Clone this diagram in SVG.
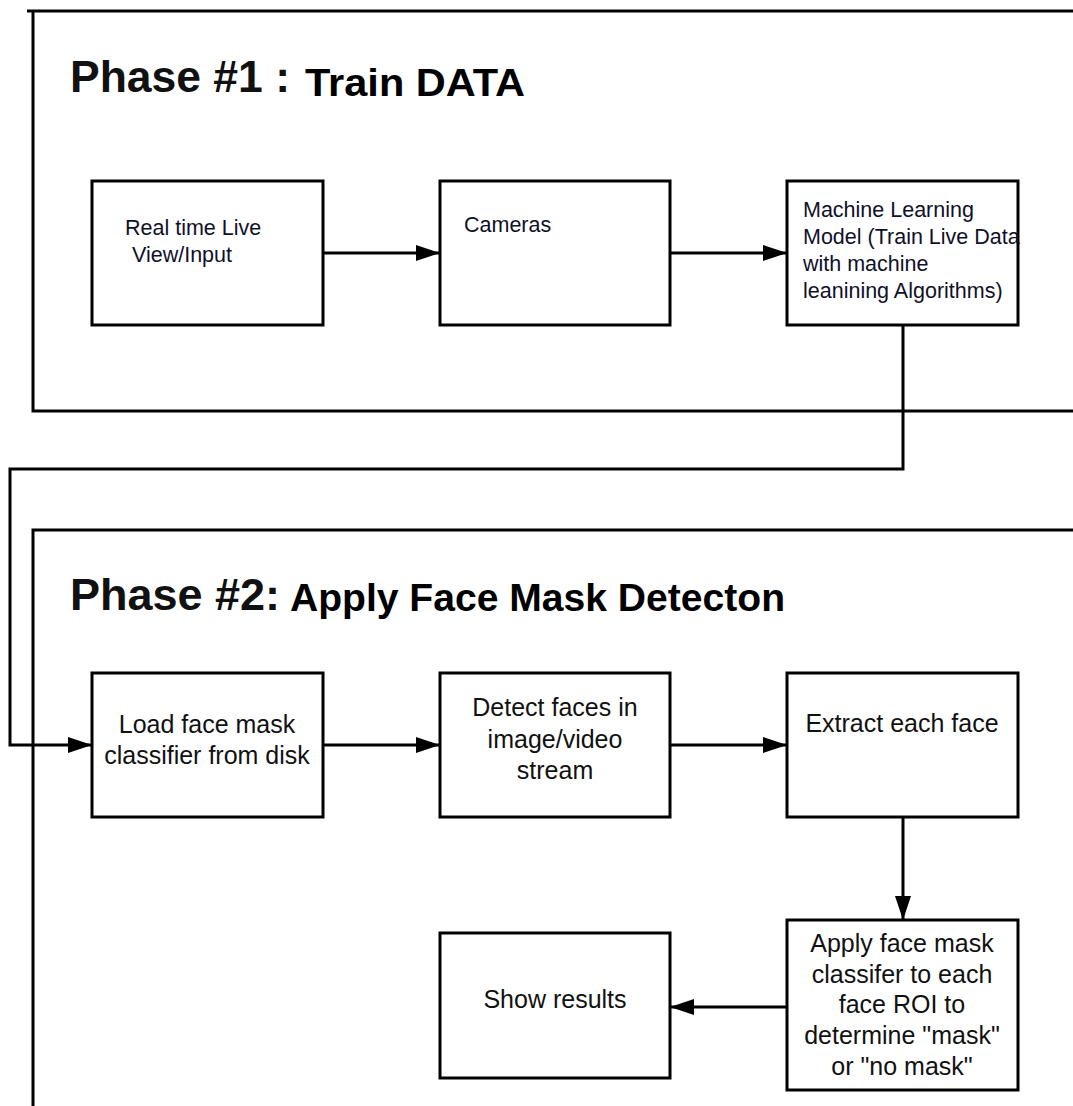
<svg xmlns="http://www.w3.org/2000/svg" width="1073" height="1106" viewBox="0 0 1073 1106">
<defs>
<marker id="arr" markerWidth="24" markerHeight="16" refX="24" refY="8" orient="auto" markerUnits="userSpaceOnUse">
<path d="M0,0 L24,8 L0,16 Z" fill="#000"/>
</marker>
<style>
.box{fill:#fff;stroke:#000;stroke-width:3}
.frame{fill:none;stroke:#000;stroke-width:3}
.conn{fill:none;stroke:#000;stroke-width:3}
.t1{font-family:"Liberation Sans",Arial,sans-serif;font-size:21.5px;fill:#10102a}
.t2{font-family:"Liberation Sans",Arial,sans-serif;font-size:25px;fill:#111;text-anchor:middle}
.h1{font-family:"Liberation Sans",Arial,sans-serif;font-size:44px;font-weight:bold;fill:#111}
.h2{font-family:"Liberation Sans",Arial,sans-serif;font-size:38px;font-weight:bold;fill:#000}
</style>
</defs>
<rect width="1073" height="1106" fill="#fff"/>
<g id="phase1-frame">
<path class="frame" d="M1073,11 L27,11 M33,11 L33,411 L1073,411"/>
<text class="h1" x="70" y="92" textLength="220" lengthAdjust="spacingAndGlyphs">Phase #1 :</text>
<text class="h2" x="305" y="96" textLength="220" lengthAdjust="spacingAndGlyphs">Train DATA</text>
</g>
<g id="phase2-frame">
<path class="frame" d="M1073,530 L33,530 L33,1106"/>
<text class="h1" x="70" y="610" textLength="210" lengthAdjust="spacingAndGlyphs">Phase #2:</text>
<text class="h2" x="290" y="611" textLength="495" lengthAdjust="spacingAndGlyphs">Apply Face Mask Detecton</text>
</g>
<g id="connectors">
<line class="conn" x1="323" y1="253" x2="440" y2="253" marker-end="url(#arr)"/>
<line class="conn" x1="670" y1="253" x2="787" y2="253" marker-end="url(#arr)"/>
<path class="conn" d="M903,325 L903,469 L10,469 L10,745 L92,745" marker-end="url(#arr)"/>
<line class="conn" x1="323" y1="745" x2="440" y2="745" marker-end="url(#arr)"/>
<line class="conn" x1="670" y1="745" x2="787" y2="745" marker-end="url(#arr)"/>
<line class="conn" x1="903" y1="817" x2="903" y2="920" marker-end="url(#arr)"/>
<line class="conn" x1="787" y1="1007" x2="670" y2="1007" marker-end="url(#arr)"/>
</g>
<g id="realtime">
<rect class="box" x="92" y="181" width="231" height="144"/>
<text class="t1" x="125" y="235">Real time Live</text>
<text class="t1" x="132" y="262">View/Input</text>
</g>
<g id="cameras">
<rect class="box" x="440" y="181" width="230" height="144"/>
<text class="t1" x="464" y="232">Cameras</text>
</g>
<g id="ml-model">
<rect class="box" x="787" y="181" width="231" height="144"/>
<text class="t1" x="803" y="217">Machine Learning</text>
<text class="t1" x="803" y="244">Model (Train Live Data</text>
<text class="t1" x="803" y="271">with machine</text>
<text class="t1" x="803" y="298">leanining Algorithms)</text>
</g>
<g id="load">
<rect class="box" x="92" y="673" width="231" height="144"/>
<text class="t2" x="207" y="733">Load face mask</text>
<text class="t2" x="207" y="764">classifier from disk</text>
</g>
<g id="detect">
<rect class="box" x="440" y="673" width="230" height="144"/>
<text class="t2" x="555" y="716">Detect faces in</text>
<text class="t2" x="555" y="748">image/video</text>
<text class="t2" x="555" y="779">stream</text>
</g>
<g id="extract">
<rect class="box" x="787" y="673" width="231" height="144"/>
<text class="t2" x="902" y="732">Extract each face</text>
</g>
<g id="apply">
<rect class="box" x="787" y="920" width="231" height="170"/>
<text class="t2" x="902" y="952">Apply face mask</text>
<text class="t2" x="902" y="983">classifer to each</text>
<text class="t2" x="902" y="1013">face ROI to</text>
<text class="t2" x="902" y="1044">determine "mask"</text>
<text class="t2" x="902" y="1075">or "no mask"</text>
</g>
<g id="show">
<rect class="box" x="440" y="933" width="230" height="145"/>
<text class="t2" x="555" y="1008">Show results</text>
</g>
</svg>
